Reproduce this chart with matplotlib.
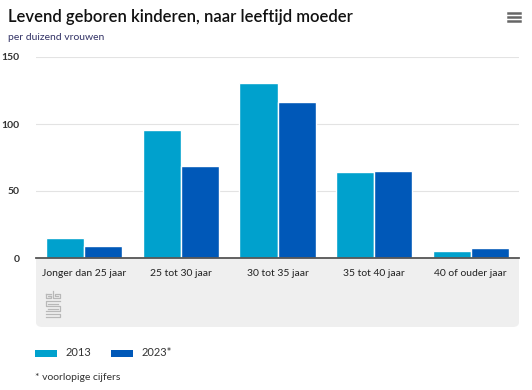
import matplotlib.pyplot as plt
from matplotlib.patches import FancyBboxPatch, Rectangle
import numpy as np

# data
categories = ['Jonger dan 25 jaar', '25 tot 30 jaar', '30 tot 35 jaar',
              '35 tot 40 jaar', '40 of ouder jaar']
v2013 = [15.2, 95.5, 130.5, 64.5, 5.3]
v2023 = [9.2, 69.0, 116.5, 65.2, 7.3]
series_names = ['2013', '2023*']
colors = ['#00a1cd', '#0058b8']
yticks = [0, 50, 100, 150]

plt.rcParams['font.family'] = ['Lato', 'DejaVu Sans']

fig = plt.figure(figsize=(5.32, 3.9), dpi=100)
W, H = 532, 390

def fx(px):
    return px / W

def fy(py):
    return 1 - py / H

# grey label band under the axis
band = FancyBboxPatch((fx(36), fy(327)), fx(519) - fx(36), fy(258) - fy(327),
                      boxstyle='round,pad=0,rounding_size=0.012',
                      transform=fig.transFigure, facecolor='#efefef',
                      edgecolor='none', zorder=-2)
fig.patches.append(band)
fig.patches.append(Rectangle((fx(36), fy(290)), fx(519) - fx(36), fy(258) - fy(290),
                             transform=fig.transFigure, facecolor='#efefef',
                             edgecolor='none', zorder=-2))

ax = fig.add_axes([fx(36), fy(258), fx(519) - fx(36), fy(57) - fy(258)])
ax.set_zorder(2)
ax.patch.set_alpha(0)

x = np.arange(len(categories))
w = 0.395
ax.bar(x - w / 2, v2013, w, color=colors[0], edgecolor='white', linewidth=1, zorder=3)
ax.bar(x + w / 2, v2023, w, color=colors[1], edgecolor='white', linewidth=1, zorder=3)

ax.set_xlim(-0.5, len(categories) - 0.5)
ax.set_ylim(0, 150)
ax.set_yticks(yticks)
ax.set_yticklabels([str(t) for t in yticks], fontsize=7.5, color='#333333',
                   fontweight='bold')
ax.tick_params(axis='y', length=0, pad=12)
ax.set_xticks(x)
ax.set_xticklabels(categories, fontsize=7.5, color='#222222')
ax.tick_params(axis='x', length=0, pad=8)
ax.grid(axis='y', color='#e3e3e3', linewidth=0.8, zorder=0)
for s in ['top', 'right', 'left']:
    ax.spines[s].set_visible(False)
ax.spines['bottom'].set_color('#555555')
ax.spines['bottom'].set_linewidth(1.3)
ax.spines['bottom'].set_zorder(4)

# titles
fig.text(fx(8), fy(17), 'Levend geboren kinderen, naar leeftijd moeder',
         fontsize=12, fontweight='semibold', color='#111111', va='center')
fig.text(fx(8), fy(38), 'per duizend vrouwen', fontsize=7.5, color='#333366',
         va='center')

# menu icon
for yy in (13, 17, 21):
    fig.lines.append(plt.Line2D([fx(508), fx(520)], [fy(yy), fy(yy)],
                                transform=fig.transFigure, color='#666666',
                                linewidth=1.8))

# cbs logo (simple line sketch)
logo = [
    ([46, 46, 51, 51, 48, 48, 51], [294, 298, 298, 296, 296, 296, 296]),
    ([46, 51], [294, 294]),
    ([53, 53, 60, 60, 55, 55, 58], [291, 298, 298, 294, 294, 296, 296]),
    ([60, 46, 46, 60, 60, 46], [301, 301, 306, 306, 311, 311]),
    ([48, 58], [303.5, 303.5]),
    ([48, 58], [308.5, 308.5]),
    ([46, 60, 60, 46], [314, 314, 317, 317]),
]
for xs, ys in logo:
    fig.lines.append(plt.Line2D([fx(v) for v in xs], [fy(v) for v in ys],
                                transform=fig.transFigure, color='#b8b8b8',
                                linewidth=0.9))

# legend
for i, (name, c) in enumerate(zip(series_names, colors)):
    x0 = 35 + i * 76
    fig.patches.append(Rectangle((fx(x0), fy(357)), fx(22), fy(350) - fy(357),
                                 transform=fig.transFigure, facecolor=c,
                                 edgecolor='none'))
    fig.text(fx(x0 + 31), fy(353), name, fontsize=8, color='#333333',
             va='center')

fig.text(fx(35), fy(377), '* voorlopige cijfers', fontsize=7.5, color='#333333',
         va='center')

fig.savefig('out.png', dpi=100)
